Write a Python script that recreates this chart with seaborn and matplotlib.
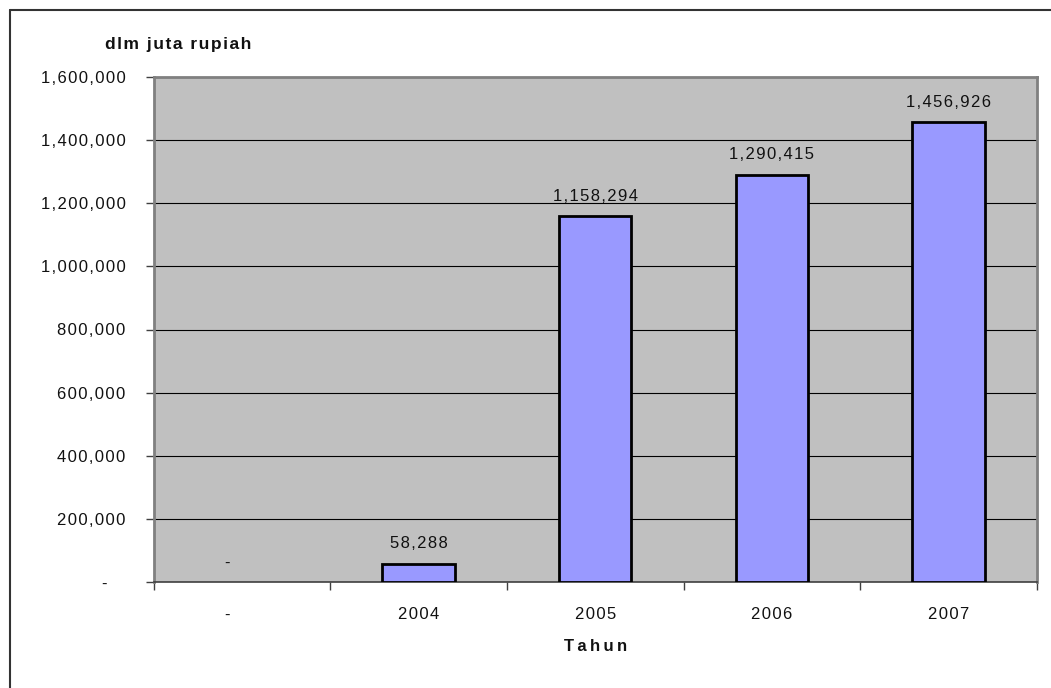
import matplotlib
matplotlib.use("Agg")
import matplotlib.pyplot as plt
import seaborn as sns
import pandas as pd
from matplotlib.ticker import FixedLocator, FuncFormatter
from matplotlib.lines import Line2D

categories = ["-", "2004", "2005", "2006", "2007"]
values = [0, 58288, 1158294, 1290415, 1456926]
y_ticks = [0, 200000, 400000, 600000, 800000, 1000000, 1200000, 1400000, 1600000]

sns.set_theme(style="white")
plt.rcParams['font.family'] = ['Liberation Sans', 'DejaVu Sans']
GAP = "\u200a"


def sp(s, gap=GAP):
    return gap.join(s)


df = pd.DataFrame({"Tahun": categories, "Nilai": values})

fig = plt.figure(figsize=(10.51, 6.88), dpi=100)
ax = fig.add_axes([153.5/1051, 1-582/688, (1037-153.5)/1051, (582-77)/688])
ax.set_facecolor("#C0C0C0")

sns.barplot(data=df, x="Tahun", y="Nilai", order=categories, color="#9999FF",
            edgecolor="black", linewidth=2, width=0.41, saturation=1, ax=ax, zorder=3)
for p in ax.patches:
    if p.get_height() == 0:
        p.set_visible(False)

ax.set_ylim(0, 1600000)
ax.set_xlim(-0.5, len(categories)-0.5)
ax.yaxis.set_major_locator(FixedLocator(y_ticks))
ax.yaxis.set_major_formatter(FuncFormatter(lambda v, p: "-" + " " * 4 if v == 0 else sp(f"{int(v):,}")))
ax.set_xticks(range(len(categories)))
ax.set_xticklabels(["-" + " " * 6 if c == "-" else sp(c) for c in categories])
ax.grid(axis="y", color="black", linewidth=0.8, zorder=0)
ax.set_axisbelow(True)

ax.tick_params(axis="y", which="major", direction="out", length=6, width=1,
               color="#404040", labelsize=12, pad=14, left=True, labelcolor="#111111")
ax.tick_params(axis="x", which="major", length=0, labelsize=12, pad=18, labelcolor="#111111")
ax.set_xticks([i + 0.5 for i in range(-1, len(categories))], minor=True)
ax.tick_params(axis="x", which="minor", direction="out", length=6, width=1,
               color="#404040", bottom=True)

for s in ["left", "top", "right"]:
    ax.spines[s].set_color("#808080")
    ax.spines[s].set_linewidth(2)
ax.spines["bottom"].set_color("#404040")
ax.spines["bottom"].set_linewidth(1.2)

ax.set_xlabel(sp("Tahun", "\u2009"), fontsize=12, fontweight="bold", labelpad=12, color="#111111")
ax.set_ylabel("")
fig.text(105/1051, 1-45/688, sp("dlm juta rupiah"), fontsize=12.5, fontweight="bold",
         ha="left", va="center", color="#111111")

for i, v in enumerate(values):
    label = "-" + " " * 6 if v == 0 else sp(f"{v:,}")
    ax.annotate(label, (i, v), xytext=(0, 9 if v else 8.5), textcoords="offset points",
                ha="center", va="bottom", fontsize=12, color="#111111")

fig.add_artist(Line2D([10/1051, 10/1051], [0, 1-10/688], color="#333333", linewidth=1.5,
                      transform=fig.transFigure))
fig.add_artist(Line2D([10/1051, 1], [1-10/688, 1-10/688], color="#333333", linewidth=1.5,
                      transform=fig.transFigure))

fig.savefig("out.png", dpi=100)
